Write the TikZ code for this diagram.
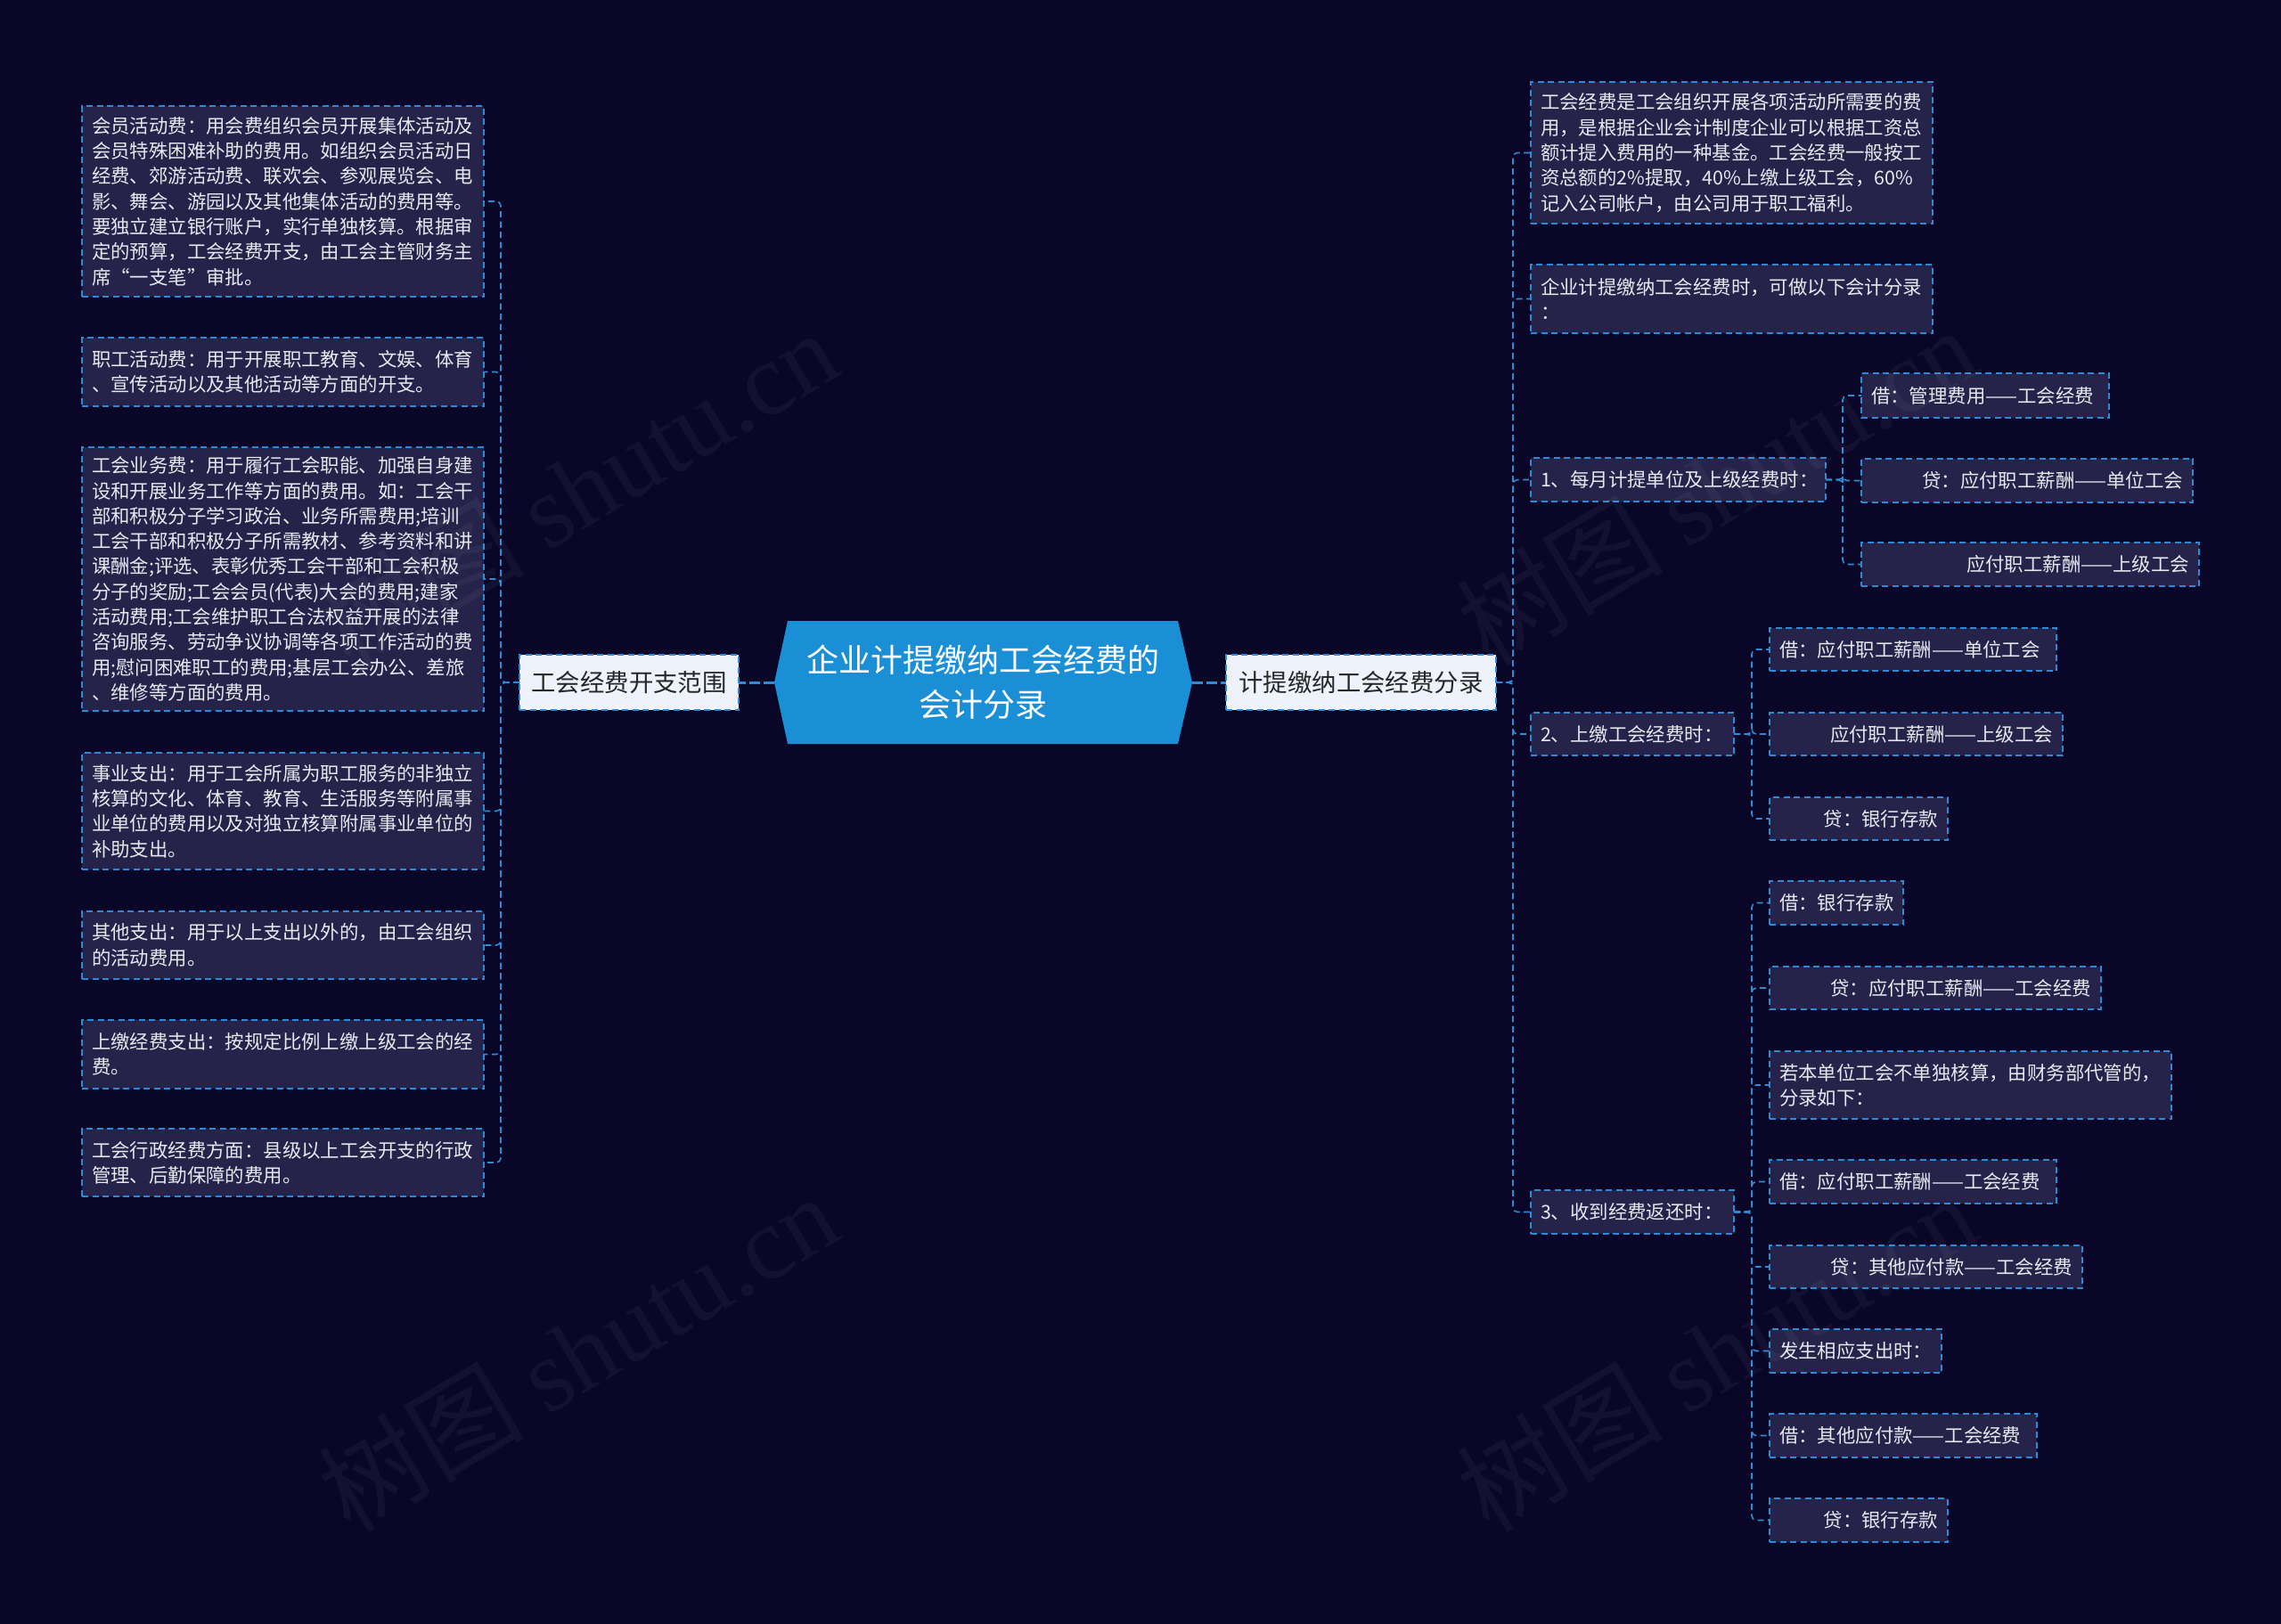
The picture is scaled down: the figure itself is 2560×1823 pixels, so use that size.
\documentclass[tikz,border=0pt]{standalone}
\usepackage{fontspec}
\setmainfont{Noto Sans CJK SC}
\newfontfamily\wmlatin{Liberation Serif}
\definecolor{bg}{HTML}{0A0628}
\definecolor{boxfill}{HTML}{25234A}
\definecolor{dashblue}{HTML}{2E8AD4}
\definecolor{centerblue}{HTML}{1A8FD5}
\definecolor{lightfill}{HTML}{EEF3FB}
\definecolor{txt}{HTML}{E8E8F0}
\tikzset{
  box/.style={draw=dashblue, fill=boxfill, line width=1.6pt, dash pattern=on 7pt off 4.5pt,
    inner xsep=11pt, inner ysep=0pt, outer sep=0pt, text=txt,
    font=\fontsize{21.4}{28.3}\selectfont},
  topbox/.style={box, fill=lightfill, text=black!85, font=\fontsize{27.4}{34}\selectfont},
  conn/.style={draw=dashblue, line width=1.6pt, dash pattern=on 7pt off 4.5pt, rounded corners=5pt},
  mainconn/.style={draw=dashblue, line width=3pt, dash pattern=on 12pt off 4pt},
  wm/.style={rotate=31, text=white, opacity=0.045, font=\fontsize{116}{116}\selectfont}
}
\newcommand\bx[8][box]{%
  \pgfmathsetmacro\bxw{#5-#3}%
  \pgfmathsetmacro\bxh{#6-#4}%
  \pgfmathsetmacro\bxx{(#3+#5)/2}%
  \pgfmathsetmacro\bxy{(#4+#6)/2}%
  \pgfmathsetmacro\bxt{#5-#3-22}%
  \node[#1, minimum width=\bxw pt, minimum height=\bxh pt, text width=\bxt pt, align=#7] (#2) at (\bxx,\bxy) {#8};%
}
\begin{document}
\begin{tikzpicture}[x=1pt,y=-1pt]
\fill[bg] (0,0) rectangle (2560,1823);
\useasboundingbox (0,0) rectangle (2560,1823);

% center node
\fill[centerblue] (884,697) -- (1322,697) -- (1338,766) -- (1322,835) -- (884,835) -- (869,766) -- cycle;
\node[minimum width=469pt, minimum height=138pt, inner sep=0pt, outer sep=0pt, text=white, align=center,
  font=\fontsize{36}{50}\selectfont] (c) at (1103.5,766) {企业计提缴纳工会经费的\\会计分录};

% level 1
\bx[topbox]{LL}{583}{735}{829}{797}{center}{工会经费开支范围}
\bx[topbox]{RR}{1376}{735}{1679}{797}{center}{计提缴纳工会经费分录}

% left children
\bx{L1}{92}{119}{543}{333}{left}{会员活动费：用会费组织会员开展集体活动及\\会员特殊困难补助的费用。如组织会员活动日\\经费、郊游活动费、联欢会、参观展览会、电\\影、舞会、游园以及其他集体活动的费用等。\\要独立建立银行账户，实行单独核算。根据审\\定的预算，工会经费开支，由工会主管财务主\\席“一支笔”审批。}
\bx{L2}{92}{379}{543}{456}{left}{职工活动费：用于开展职工教育、文娱、体育\\、宣传活动以及其他活动等方面的开支。}
\bx{L3}{92}{502}{543}{798}{left}{工会业务费：用于履行工会职能、加强自身建\\设和开展业务工作等方面的费用。如：工会干\\部和积极分子学习政治、业务所需费用;培训\\工会干部和积极分子所需教材、参考资料和讲\\课酬金;评选、表彰优秀工会干部和工会积极\\分子的奖励;工会会员(代表)大会的费用;建家\\活动费用;工会维护职工合法权益开展的法律\\咨询服务、劳动争议协调等各项工作活动的费\\用;慰问困难职工的费用;基层工会办公、差旅\\、维修等方面的费用。}
\bx{L4}{92}{845}{543}{976}{left}{事业支出：用于工会所属为职工服务的非独立\\核算的文化、体育、教育、生活服务等附属事\\业单位的费用以及对独立核算附属事业单位的\\补助支出。}
\bx{L5}{92}{1023}{543}{1099}{left}{其他支出：用于以上支出以外的，由工会组织\\的活动费用。}
\bx{L6}{92}{1145}{543}{1222}{left}{上缴经费支出：按规定比例上缴上级工会的经\\费。}
\bx{L7}{92}{1267}{543}{1343}{left}{工会行政经费方面：县级以上工会开支的行政\\管理、后勤保障的费用。}

% right children
\bx{A}{1718}{92}{2169}{251}{left}{工会经费是工会组织开展各项活动所需要的费\\用，是根据企业会计制度企业可以根据工资总\\额计提入费用的一种基金。工会经费一般按工\\资总额的2\%提取，40\%上缴上级工会，60\%\\记入公司帐户，由公司用于职工福利。}
\bx{B}{1718}{297}{2169}{374}{left}{企业计提缴纳工会经费时，可做以下会计分录\\：}
\bx{C}{1718}{514}{2049}{563}{left}{1、每月计提单位及上级经费时：}
\bx{C1}{2089}{419}{2367}{469}{left}{借：管理费用——工会经费}
\bx{C2}{2089}{515}{2461}{564}{right}{贷：应付职工薪酬——单位工会}
\bx{C3}{2089}{609}{2468}{658}{right}{应付职工薪酬——上级工会}
\bx{D}{1718}{800}{1946}{848}{left}{2、上缴工会经费时：}
\bx{D1}{1986}{705}{2308}{753}{left}{借：应付职工薪酬——单位工会}
\bx{D2}{1986}{800}{2315}{848}{right}{应付职工薪酬——上级工会}
\bx{D3}{1986}{895}{2186}{943}{right}{贷：银行存款}
\bx{E}{1718}{1336}{1946}{1385}{left}{3、收到经费返还时：}
\bx{E1}{1986}{989}{2136}{1038}{left}{借：银行存款}
\bx{E2}{1986}{1085}{2358}{1133}{right}{贷：应付职工薪酬——工会经费}
\bx{E3}{1986}{1180}{2437}{1256}{left}{若本单位工会不单独核算，由财务部代管的，\\分录如下：}
\bx{E4}{1986}{1302}{2308}{1351}{left}{借：应付职工薪酬——工会经费}
\bx{E5}{1986}{1398}{2337}{1446}{right}{贷：其他应付款——工会经费}
\bx{E6}{1986}{1492}{2179}{1541}{left}{发生相应支出时：}
\bx{E7}{1986}{1587}{2286}{1636}{left}{借：其他应付款——工会经费}
\bx{E8}{1986}{1682}{2186}{1731}{right}{贷：银行存款}

% connectors
\draw[mainconn] (c.west) -- (LL.east);
\draw[mainconn] (c.east) -- (RR.west);
\foreach \n in {L1,L2,L3,L4,L5,L6,L7}
  \draw[conn] (LL.west) -- ++(-21,0) |- (\n.east);
\foreach \n in {A,B,C,D,E}
  \draw[conn] (RR.east) -- ++(19,0) |- (\n.west);
\foreach \n in {C1,C2,C3}
  \draw[conn] (C.east) -- ++(19,0) |- (\n.west);
\foreach \n in {D1,D2,D3}
  \draw[conn] (D.east) -- ++(20,0) |- (\n.west);
\foreach \n in {E1,E2,E3,E4,E5,E6,E7,E8}
  \draw[conn] (E.east) -- ++(20,0) |- (\n.west);

% watermarks
\node[wm] (wm1) at (648,548) {树图 {\wmlatin shutu.cn}};
\node[wm] (wm2) at (1926,545) {树图 {\wmlatin shutu.cn}};
\node[wm] (wm3) at (648,1518) {树图 {\wmlatin shutu.cn}};
\node[wm] (wm4) at (1926,1518) {树图 {\wmlatin shutu.cn}};
\end{tikzpicture}
\end{document}
